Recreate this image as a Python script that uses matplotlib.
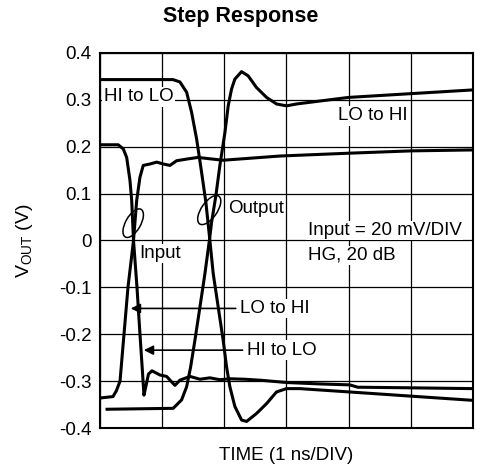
import matplotlib.pyplot as plt
from matplotlib.patches import Ellipse

plt.rcParams['font.family'] = ['Liberation Sans', 'DejaVu Sans']

# time in ns, voltage in V
in_hilo_t = [0.0, 0.294, 0.375, 0.429, 0.482, 0.510, 0.539, 0.595, 0.643, 0.683, 0.707, 0.740, 0.780,
             0.836, 0.965, 1.072, 1.141, 1.206, 1.286, 1.447, 1.608, 1.768, 1.929, 2.090, 2.331,
             2.572, 3.006, 3.537, 4.019, 4.148, 4.823, 6.0]
in_hilo_v = [0.204, 0.204, 0.195, 0.177, 0.128, 0.085, 0.0, -0.1, -0.2, -0.28, -0.33, -0.31, -0.285,
             -0.278, -0.287, -0.29, -0.30, -0.309, -0.298, -0.29, -0.296, -0.293, -0.297, -0.295, -0.296,
             -0.298, -0.303, -0.306, -0.308, -0.313, -0.314, -0.316]

in_lohi_t = [0.0, 0.209, 0.265, 0.322, 0.386, 0.450, 0.539, 0.590, 0.643, 0.696, 0.804, 0.912,
             1.018, 1.125, 1.233, 1.420, 1.576, 1.977, 2.894, 4.0, 5.01, 6.0]
in_lohi_v = [-0.336, -0.333, -0.32, -0.30, -0.2, -0.1, 0.0, 0.085, 0.135, 0.16, 0.163, 0.167,
             0.163, 0.16, 0.17, 0.174, 0.177, 0.171, 0.18, 0.186, 0.191, 0.193]

out_hilo_t = [0.0, 1.174, 1.286, 1.394, 1.474, 1.555, 1.635, 1.704, 1.768, 1.822, 1.902, 1.982,
              2.037, 2.090, 2.170, 2.278, 2.359, 2.519, 2.680, 2.841, 3.002, 3.215, 4.0, 5.0, 6.0]
out_hilo_v = [0.343, 0.343, 0.338, 0.316, 0.273, 0.216, 0.145, 0.081, 0.0, -0.071, -0.142, -0.213,
              -0.27, -0.312, -0.354, -0.383, -0.386, -0.369, -0.348, -0.323, -0.316, -0.316, -0.323, -0.332, -0.341]

out_lohi_t = [0.113, 1.178, 1.313, 1.394, 1.458, 1.527, 1.608, 1.688, 1.760, 1.796, 1.865, 1.929,
              2.010, 2.063, 2.117, 2.170, 2.278, 2.384, 2.519, 2.680, 2.841, 3.002, 3.162, 4.0, 5.0, 6.0]
out_lohi_v = [-0.36, -0.358, -0.34, -0.312, -0.27, -0.213, -0.142, -0.071, 0.0, 0.039, 0.096, 0.16,
              0.23, 0.287, 0.323, 0.344, 0.36, 0.351, 0.326, 0.305, 0.291, 0.287, 0.291, 0.305, 0.313, 0.321]

yticks = [0.4, 0.3, 0.2, 0.1, 0, -0.1, -0.2, -0.3, -0.4]
ylabels = ['0.4', '0.3', '0.2', '0.1', '0', '-0.1', '-0.2', '-0.3', '-0.4']

fig = plt.figure(figsize=(4.82, 4.72), dpi=100)
ax = fig.add_axes([0.2075, 0.0932, 0.7735, 0.7948])

for t, v in [(in_hilo_t, in_hilo_v), (in_lohi_t, in_lohi_v), (out_hilo_t, out_hilo_v), (out_lohi_t, out_lohi_v)]:
    ax.plot(t, v, color='black', lw=2.2, solid_joinstyle='round', zorder=3)

ax.set_xlim(0, 6)
ax.set_ylim(-0.4, 0.4)
ax.set_xticks(range(7))
ax.set_xticklabels([])
ax.set_yticks(yticks)
ax.set_yticklabels(ylabels, fontsize=13.5)
ax.tick_params(length=0, pad=6)
ax.grid(True, color='black', lw=0.9)
for s in ax.spines.values():
    s.set_linewidth(1.5)

fig.text(0.05, 0.49, 'V$_{\\mathregular{OUT}}$ (V)', fontsize=14, rotation=90, ha='center', va='center')
fig.text(0.594, 0.036, 'TIME (1 ns/DIV)', fontsize=13.5, ha='center', va='center')
fig.text(0.5, 0.966, 'Step Response', fontsize=15.5, fontweight='bold', ha='center', va='center')

fs = 13.5
box = dict(facecolor='white', edgecolor='none', pad=1)
ax.text(0.06, 0.306, 'HI to LO', fontsize=fs, va='center', bbox=box, zorder=4)
ax.text(3.83, 0.266, 'LO to HI', fontsize=fs, va='center', bbox=box, zorder=4)
ax.text(2.06, 0.068, 'Output', fontsize=fs, va='center', bbox=box, zorder=4)
ax.text(0.63, -0.028, 'Input', fontsize=fs, va='center', bbox=box, zorder=4)
ax.text(3.34, 0.021, 'Input = 20 mV/DIV', fontsize=fs, va='center', bbox=box, zorder=4)
ax.text(3.34, -0.032, 'HG, 20 dB', fontsize=fs, va='center', bbox=box, zorder=4)

arrow = dict(arrowstyle='-|>', color='black', lw=1.2, mutation_scale=14)
ax.annotate('LO to HI', xy=(0.45, -0.145), xytext=(2.25, -0.145), fontsize=fs, va='center',
            arrowprops=arrow, bbox=box, zorder=4)
ax.annotate('HI to LO', xy=(0.66, -0.234), xytext=(2.36, -0.234), fontsize=fs, va='center',
            arrowprops=arrow, bbox=box, zorder=4)

ax.add_patch(Ellipse((0.089, 0.546), 0.085, 0.04, angle=60, transform=ax.transAxes,
                     fill=False, color='black', lw=1.1, zorder=4))
ax.add_patch(Ellipse((0.293, 0.581), 0.09, 0.042, angle=55, transform=ax.transAxes,
                     fill=False, color='black', lw=1.1, zorder=4))

fig.savefig('out.png', dpi=100)
